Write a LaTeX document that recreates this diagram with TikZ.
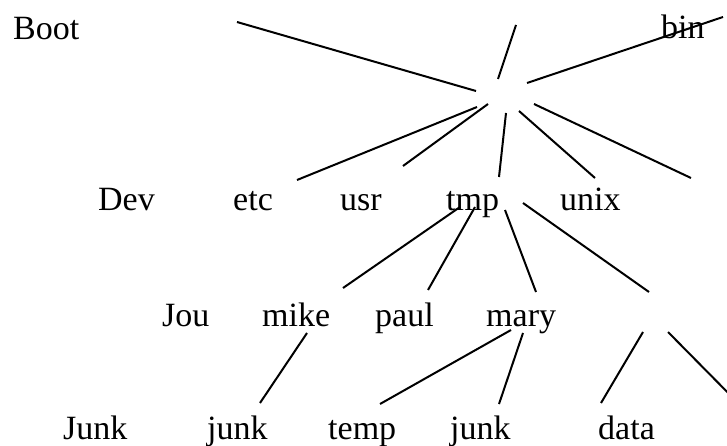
\documentclass[tikz,border=0pt]{standalone}
\usepackage{fontspec}
\setmainfont{Liberation Serif}
\begin{document}
\begin{tikzpicture}[x=1pt,y=-1pt,
  lbl/.style={anchor=base west,inner sep=0pt,font=\fontsize{34}{37}\selectfont},
  edge/.style={line width=2pt}]
\useasboundingbox (0,0) rectangle (727,446);
\clip (0,0) rectangle (727,446);
% labels
\node[lbl] (boot) at (13,40) {Boot};
\node[lbl] (bin) at (661,39) {bin};
\node[lbl] (dev) at (98,211) {Dev};
\node[lbl] (etc) at (233,211) {etc};
\node[lbl] (usr) at (340,211) {usr};
\node[lbl] (tmp) at (446,211) {tmp};
\node[lbl] (unix) at (560,211) {unix};
\node[lbl] (jou) at (162,326) {Jou};
\node[lbl] (mike) at (262,326) {mike};
\node[lbl] (paul) at (375,326) {paul};
\node[lbl] (mary) at (486,326) {mary};
\node[lbl] (junkA) at (63,439) {Junk};
\node[lbl] (junkB) at (207,439) {junk};
\node[lbl] (temp) at (328,439) {temp};
\node[lbl] (junkC) at (450,439) {junk};
\node[lbl] (data) at (598,439) {data};
% connector end points
\coordinate (a1) at (237,22);  \coordinate (b1) at (476,91);
\coordinate (a2) at (516,25);  \coordinate (b2) at (498,79);
\coordinate (a3) at (527,83);  \coordinate (b3) at (723,17);
\coordinate (a4) at (477,107); \coordinate (b4) at (297,180);
\coordinate (a5) at (488,104); \coordinate (b5) at (403,166);
\coordinate (a6) at (506,113); \coordinate (b6) at (499,177);
\coordinate (a7) at (519,111); \coordinate (b7) at (595,178);
\coordinate (a8) at (534,104); \coordinate (b8) at (691,178);
\coordinate (a9) at (460,207); \coordinate (b9) at (343,288);
\coordinate (a10) at (475,207); \coordinate (b10) at (428,290);
\coordinate (a11) at (505,210); \coordinate (b11) at (536,292);
\coordinate (a12) at (523,203); \coordinate (b12) at (649,292);
\coordinate (a13) at (307,333); \coordinate (b13) at (260,403);
\coordinate (a14) at (511,330); \coordinate (b14) at (380,404);
\coordinate (a15) at (523,333); \coordinate (b15) at (499,404);
\coordinate (a16) at (643,332); \coordinate (b16) at (601,403);
\coordinate (a17) at (668,332); \coordinate (b17) at (745,410);
\foreach \i in {1,...,17} {\draw[edge] (a\i) -- (b\i);}
\end{tikzpicture}
\end{document}
